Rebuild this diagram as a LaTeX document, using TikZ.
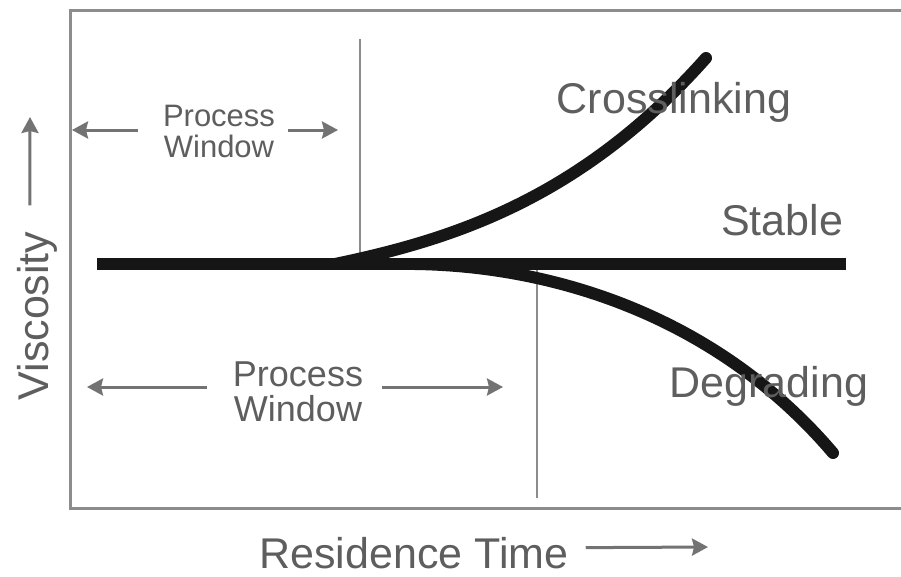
\documentclass[tikz,border=0pt]{standalone}
\usepackage{fontspec}
\setmainfont{Liberation Sans}
\usetikzlibrary{arrows.meta}
\definecolor{framegray}{HTML}{8C8C8C}
\definecolor{textgray}{HTML}{5E5E5E}
\definecolor{arrgray}{HTML}{737373}
\definecolor{curveblack}{HTML}{161616}
\begin{document}
\begin{tikzpicture}[x=1pt,y=-1pt,
  frame/.style={draw=framegray,line width=3pt},
  guide/.style={draw=framegray,line width=2.5pt},
  arr/.style={draw=arrgray,line width=3pt,-{Stealth[length=16pt,width=17pt,inset=2pt]}},
  lbl/.style={text=textgray,inner sep=0pt,font=\fontsize{43}{43}\selectfont},
  pwlbl/.style={text=textgray,inner sep=0pt,align=center},
  curve/.style={draw=curveblack,line width=12pt,line cap=round},
  stableline/.style={draw=curveblack,line width=12pt},
]
\useasboundingbox[fill=white] (0,0) rectangle (901,576);
% frame
\draw[frame] (901,10) -- (70,10) -- (70,508) -- (901,508);
% guides
\draw[guide] (360,39) -- (360,262);
\draw[guide] (537,268) -- (537,498);
% curves
\draw[stableline] (97,264) -- (846,264);
\draw[curve] (335,264) .. controls (450,240) and (580,200) .. (706,58);
\draw[curve] (415,264) .. controls (560,266) and (720,320) .. (833,453);
% labels
\node[lbl,anchor=base] (cross) at (674,113) {Crosslinking};
\node[lbl,anchor=base] (stable) at (782,235) {Stable};
\node[lbl,anchor=base] (degr) at (769,397) {Degrading};
\node[lbl,anchor=base] (res) at (414,568) {Residence Time};
\node[lbl,anchor=base,rotate=90] (visc) at (48,316) {Viscosity};
\node[pwlbl,font=\fontsize{31}{31}\selectfont] (pwtop) at (219,131.5) {Process\\Window};
\node[pwlbl,font=\fontsize{36}{35}\selectfont] (pwbot) at (298,391.5) {Process\\Window};
% arrow tips
\coordinate (ttipL) at (72,130);
\coordinate (ttipR) at (338,130);
\coordinate (btipL) at (87,387);
\coordinate (btipR) at (503,387);
\coordinate (vtip) at (30,117);
\coordinate (rtip) at (708,547);
% arrows
\draw[arr] ([xshift=-25pt,yshift=1.5pt]pwtop.west) -- (ttipL);
\draw[arr] ([xshift=13pt,yshift=1.5pt]pwtop.east) -- (ttipR);
\draw[arr] ([xshift=-26pt,yshift=4.5pt]pwbot.west) -- (btipL);
\draw[arr] ([xshift=19pt,yshift=4.5pt]pwbot.east) -- (btipR);
\draw[arr] ([xshift=17pt,yshift=5pt]res.east) -- (rtip);
\draw[arr] ([xshift=-7pt,yshift=26pt]visc.east) -- (vtip);
\end{tikzpicture}
\end{document}
